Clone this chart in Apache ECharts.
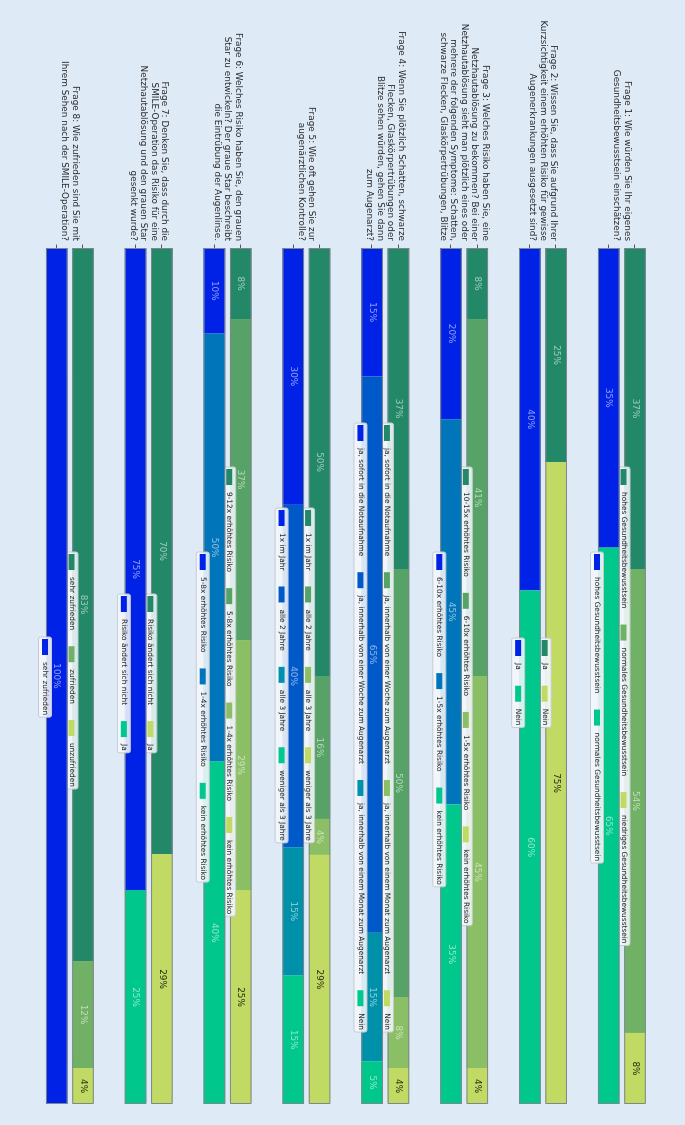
<!DOCTYPE html>
<html>
<head>
<meta charset="utf-8">
<script src="https://cdn.jsdelivr.net/npm/echarts@6/dist/echarts.min.js"></script>
<style>
html,body{margin:0;padding:0;width:685px;height:1125px;overflow:hidden;background:#dfeaf7;}
#chart{position:absolute;left:0;top:0;width:1125px;height:685px;transform-origin:0 0;transform:translate(685px,0) rotate(90deg);}
</style>
</head>
<body>
<div id="chart"></div>
<script>
// ---------- DATA ----------
const questions = [
  'Frage 1: Wie würden Sie Ihr eigenes\nGesundheitsbewusstsein einschätzen?',
  'Frage 2: Wissen Sie, dass Sie aufgrund Ihrer\nKurzsichtigkeit einem erhöhten Risiko für gewisse\nAugenerkrankungen ausgesetzt sind?',
  'Frage 3: Welches Risiko haben Sie, eine\nNetzhautablösung zu bekommen? Bei einer\nNetzhautablösung sieht man plötzlich eines oder\nmehrere der folgenden Symptome: Schatten,\nschwarze Flecken, Glaskörpertrübungen, Blitze',
  'Frage 4: Wenn Sie plötzlich Schatten, schwarze\nFlecken, Glaskörpertrübungen oder\nBlitze sehen würden, gehen Sie dann\nzum Augenarzt?',
  'Frage 5: Wie oft gehen Sie zur\naugenärztlichen Kontrolle?',
  'Frage 6: Welches Risiko haben Sie, den grauen\nStar zu entwickeln? Der graue Star beschreibt\ndie Eintrübung der Augenlinse.',
  'Frage 7: Denken Sie, dass durch die\nSMILE-Operation das Risiko für eine\nNetzhautablösung und den grauen Star\ngesenkt wurde?',
  'Frage 8: Wie zufrieden sind Sie mit\nIhrem Sehen nach der SMILE-Operation?'
];

const greenLabels = [
  ['hohes Gesundheitsbewusstsein', 'normales Gesundheitsbewusstsein', 'niedriges Gesundheitsbewusstsein'],
  ['Ja', 'Nein'],
  ['10-15x erhöhtes Risiko', '6-10x erhöhtes Risiko', '1-5x erhöhtes Risiko', 'kein erhöhtes Risiko'],
  ['ja, sofort in die Notaufnahme', 'ja, innerhalb von einer Woche zum Augenarzt', 'ja, innerhalb von einem Monat zum Augenarzt', 'Nein'],
  ['1x im Jahr', 'alle 2 Jahre', 'alle 3 Jahre', 'weniger als 3 Jahre'],
  ['9-12x erhöhtes Risiko', '5-8x erhöhtes Risiko', '1-4x erhöhtes Risiko', 'kein erhöhtes Risiko'],
  ['Risiko ändert sich nicht', 'Ja'],
  ['sehr zufrieden', 'zufrieden', 'unzufrieden']
];
const greenValues = [
  [37.5, 54.2, 8.3],
  [25, 75],
  [8.3, 41.7, 45.8, 4.2],
  [37.5, 50, 8.3, 4.2],
  [50, 16.7, 4.2, 29.1],
  [8.3, 37.5, 29.2, 25],
  [70.8, 29.2],
  [83.3, 12.5, 4.2]
];

const blueLabels = [
  ['hohes Gesundheitsbewusstsein', 'normales Gesundheitsbewusstsein'],
  ['Ja', 'Nein'],
  ['6-10x erhöhtes Risiko', '1-5x erhöhtes Risiko', 'kein erhöhtes Risiko'],
  ['ja, sofort in die Notaufnahme', 'ja, innerhalb von einer Woche zum Augenarzt', 'ja, innerhalb von einem Monat zum Augenarzt', 'Nein'],
  ['1x im Jahr', 'alle 2 Jahre', 'alle 3 Jahre', 'weniger als 3 Jahre'],
  ['5-8x erhöhtes Risiko', '1-4x erhöhtes Risiko', 'kein erhöhtes Risiko'],
  ['Risiko ändert sich nicht', 'Ja'],
  ['sehr zufrieden']
];
const blueValues = [
  [35, 65],
  [40, 60],
  [20, 45, 35],
  [15, 65, 15, 5],
  [30, 40, 15, 15],
  [10, 50, 40],
  [75, 25],
  [100]
];

// ---------- LAYOUT / STYLE ----------
const FONT = 'DejaVu Sans';
const GREEN_LEGEND_LEFT = [467, 638, 467, 423, 508, 467, 594, 552];
const BLUE_LEGEND_LEFT  = [552, 638, 552, 423, 508, 552, 594, 637];
const BAND = 26.286;
const GRID_TOP = 36.86;
const G0 = [34, 136, 104], G1 = [192, 218, 100];
const B0 = [0, 34, 230],  B1 = [0, 200, 140];

function ramp(c0, c1, n) {
  const out = [];
  for (let i = 0; i < n; i++) {
    const t = n === 1 ? 0 : i / (n - 1);
    const c = c0.map((v, k) => Math.round(v + (c1[k] - v) * t));
    out.push('rgb(' + c.join(',') + ')');
  }
  return out;
}

const NCAT = questions.length * 3;
const catIds = [];
for (let i = 0; i < NCAT; i++) catIds.push('c' + i);
function blank() { return new Array(NCAT).fill('-'); }

const series = [];
const legends = [];
const gFrame = blank(), bFrame = blank();

function addBar(cat, values, labels, colors, isGreen, zBase, legendLeft, legendTop) {
  values.forEach((v, i) => {
    const d = blank();
    d[cat] = v;
    const dark = isGreen && i === values.length - 1;
    series.push({
      type: 'bar', name: labels[i], stack: 's', data: d, z: zBase,
      barWidth: 21.6, barGap: '-100%', silent: true,
      itemStyle: { color: colors[i] },
      label: {
        show: true, position: 'inside', fontFamily: FONT, fontSize: 8.9,
        color: dark ? 'rgba(0,0,0,0.82)' : 'rgba(255,255,255,0.55)',
        formatter: p => Math.floor(p.value + 1e-9) + '%'
      }
    });
  });
  const total = values.reduce((a, b) => a + b, 0);
  (isGreen ? gFrame : bFrame)[cat] = total;
  legends.push({
    left: legendLeft, top: legendTop, orient: 'horizontal', z: zBase + 2,
    selectedMode: false, icon: 'rect', itemWidth: 16, itemHeight: 6, itemGap: 16,
    padding: [2.5, 2, 2.5, 2],
    backgroundColor: 'rgba(243,247,252,0.88)', borderColor: '#c6cbd1', borderWidth: 1, borderRadius: 2,
    textStyle: { fontFamily: FONT, fontSize: 7.4, color: '#222', lineHeight: 8, padding: [0, 0, 0, 2] },
    data: labels.map((n, i) => ({ name: n, itemStyle: { color: colors[i] } }))
  });
}

questions.forEach((q, qi) => {
  const gc = greenValues[qi].length, bc = blueValues[qi].length;
  addBar(qi * 3, greenValues[qi], greenLabels[qi], ramp(G0, G1, gc), true, 2,
         GREEN_LEGEND_LEFT[qi], 55 + qi * 3 * BAND);
  addBar(qi * 3 + 1, blueValues[qi], blueLabels[qi], ramp(B0, B1, bc), false, 5,
         BLUE_LEGEND_LEFT[qi], 81.5 + qi * 3 * BAND);
});

series.push({
  type: 'bar', name: '_gframe', stack: 'fg', data: gFrame, z: 3, silent: true,
  barWidth: 21.6, barGap: '-100%',
  itemStyle: { color: 'rgba(0,0,0,0)', borderColor: '#7f868d', borderWidth: 1 }
});
series.push({
  type: 'bar', name: '_bframe', stack: 'fb', data: bFrame, z: 6, silent: true,
  barWidth: 21.6, barGap: '-100%',
  itemStyle: { color: 'rgba(0,0,0,0)', borderColor: '#7f868d', borderWidth: 1 }
});

const chart = echarts.init(document.getElementById('chart'), null, { renderer: 'canvas', width: 1125, height: 685 });
chart.setOption({
  animation: false,
  backgroundColor: '#dfeaf7',
  textStyle: { fontFamily: FONT },
  grid: [
    { left: 248, width: 856, top: GRID_TOP, height: BAND * NCAT },
    { left: 248, width: 856, top: GRID_TOP - BAND / 2, height: BAND * NCAT }
  ],
  xAxis: [
    { type: 'value', min: 0, max: 100, show: false, gridIndex: 0 },
    { type: 'value', min: 0, max: 100, show: false, gridIndex: 1 }
  ],
  yAxis: [
    {
      type: 'category', inverse: true, data: catIds, gridIndex: 0,
      axisLine: { show: false },
      splitLine: { show: false },
      axisTick: {
        show: true, alignWithLabel: true, length: 3.5,
        interval: (idx) => idx % 3 !== 2,
        lineStyle: { color: '#333', width: 0.8 }
      },
      axisLabel: { show: false }
    },
    {
      type: 'category', inverse: true, data: questions, gridIndex: 1,
      axisLine: { show: false },
      splitLine: { show: false },
      axisTick: { show: false },
      axisLabel: {
        interval: 0,
        fontFamily: FONT, fontSize: 8.9, lineHeight: 10.6, color: '#2a2a2a',
        align: 'right', margin: 7
      }
    }
  ],
  legend: legends,
  series: series
});
</script>
</body>
</html>
